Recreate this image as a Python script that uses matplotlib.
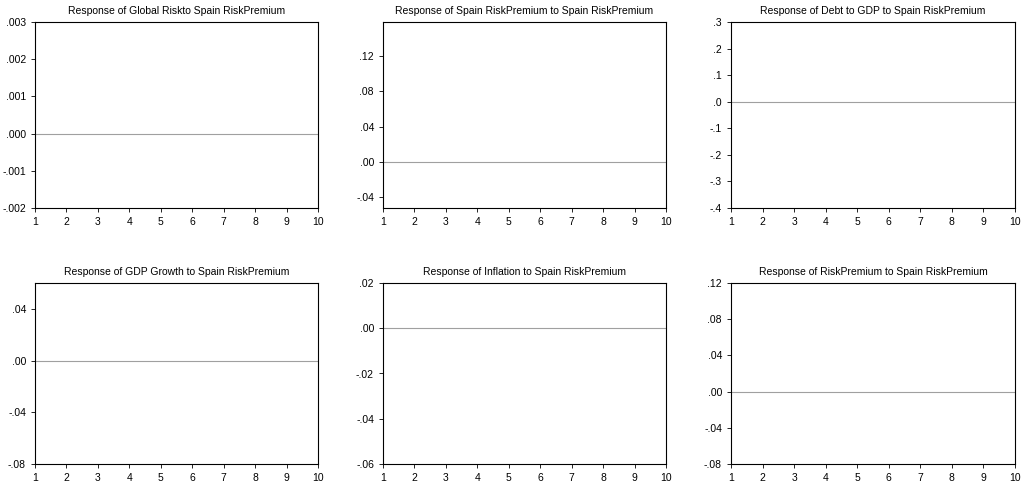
import matplotlib
matplotlib.use("Agg")
import matplotlib.pyplot as plt

plt.rcParams['font.family'] = ['Liberation Sans', 'DejaVu Sans']

titles = ["Response of Global Riskto Spain RiskPremium",
          "Response of Spain RiskPremium to Spain RiskPremium",
          "Response of Debt to GDP to Spain RiskPremium",
          "Response of GDP Growth to Spain RiskPremium",
          "Response of Inflation to Spain RiskPremium",
          "Response of RiskPremium to Spain RiskPremium"]
ylims = [(-0.002, 0.003), (-0.052, 0.158), (-0.4, 0.3),
         (-0.08, 0.06), (-0.06, 0.02), (-0.08, 0.12)]
yticks = [[-0.002, -0.001, 0.0, 0.001, 0.002, 0.003],
          [-0.04, 0.0, 0.04, 0.08, 0.12],
          [-0.4, -0.3, -0.2, -0.1, 0.0, 0.1, 0.2, 0.3],
          [-0.08, -0.04, 0.0, 0.04],
          [-0.06, -0.04, -0.02, 0.0, 0.02],
          [-0.08, -0.04, 0.0, 0.04, 0.08, 0.12]]
decimals = [3, 2, 1, 2, 2, 2]
periods = list(range(1, 11))

def fmt(v, d):
    s = f"{v:.{d}f}"
    if s.startswith("-0"):
        s = "-" + s[2:]
    elif s.startswith("0"):
        s = s[1:]
    return s

fig = plt.figure(figsize=(10.24, 4.86), dpi=100)
W, H = 1024, 486
boxes = [(35, 22, 318, 208), (383, 22, 666, 208), (731, 22, 1015, 208),
         (35, 283, 318, 464), (383, 283, 666, 464), (731, 283, 1015, 464)]
for i, (x0, y0, x1, y1) in enumerate(boxes):
    ax = fig.add_axes([x0 / W, 1 - y1 / H, (x1 - x0) / W, (y1 - y0) / H])
    ax.axhline(0, color='#a0a0a0', lw=0.8)
    ax.set_xlim(1, 10)
    ax.set_ylim(*ylims[i])
    ax.set_xticks(periods)
    ax.set_xticklabels([str(p) for p in periods])
    ax.set_yticks(yticks[i])
    ax.set_yticklabels([fmt(v, decimals[i]) for v in yticks[i]])
    ax.tick_params(labelsize=7.5, length=3, width=0.6)
    for s in ax.spines.values():
        s.set_linewidth(0.8)
    ax.set_title(titles[i], fontsize=7.5, pad=6)

fig.savefig("out.png", dpi=100)
